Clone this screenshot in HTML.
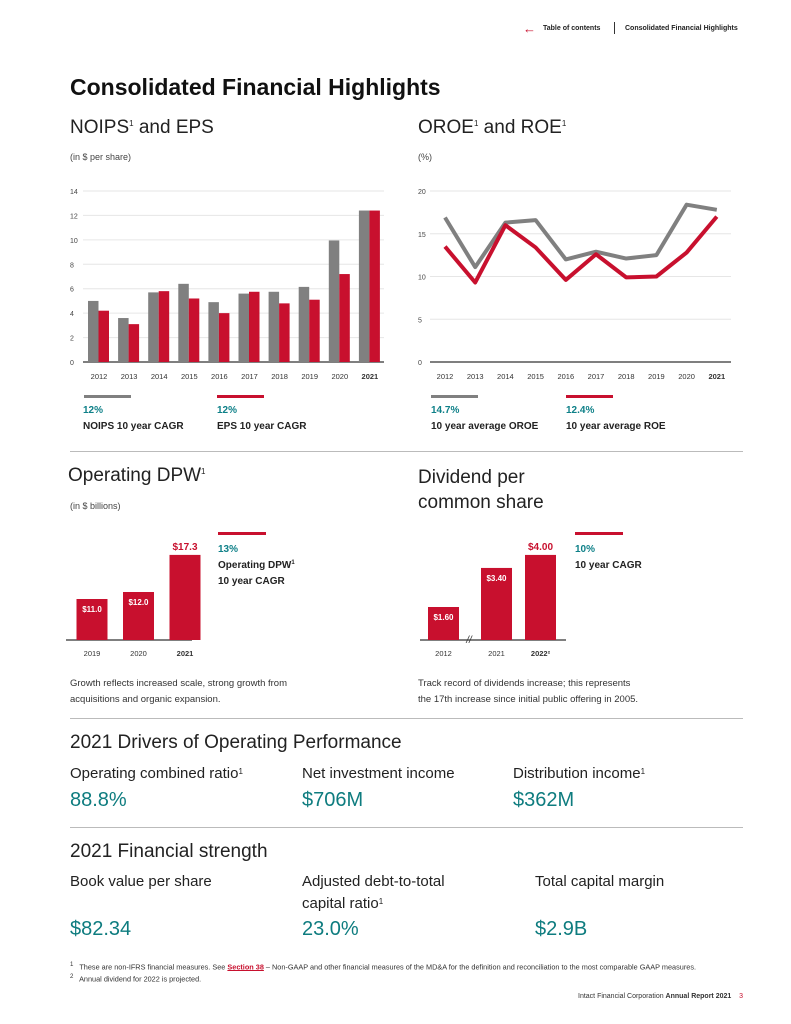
<!DOCTYPE html>
<html><head><meta charset="utf-8">
<style>
*{margin:0;padding:0;box-sizing:border-box}
body{width:791px;height:1024px;background:#fff;font-family:"Liberation Sans",sans-serif;color:#222;position:relative;overflow:hidden}
.a{position:absolute;white-space:nowrap}
.h2{font-size:19px;color:#222}
.h2 sup,.lab sup{font-size:8px;vertical-align:top;position:relative;top:2px}
.small{font-size:9px;color:#444}
.teal{color:#0e8088;font-weight:bold;font-size:10px}
.bold{font-weight:bold;font-size:10px;color:#222}
.sep{position:absolute;left:70px;width:673px;height:1px;background:#bbb}
.lab{font-size:15px;color:#222}
.val{font-size:20px;color:#0e7c7f}
svg text{font-family:"Liberation Sans",sans-serif}
</style></head><body>
<div class="a" style="left:523px;top:21px;font-size:13px;color:#c8102e">&#8592;</div>
<div class="a" style="left:543px;top:25px;font-size:7px;font-weight:bold">Table of contents</div>
<div class="a" style="left:614px;top:22px;width:1px;height:12px;background:#333"></div>
<div class="a" style="left:625px;top:25px;font-size:7px;font-weight:bold">Consolidated Financial Highlights</div>

<div class="a" style="left:70px;top:74px;font-size:23px;font-weight:bold;color:#111">Consolidated Financial Highlights</div>

<div class="a h2" style="left:70px;top:117px">NOIPS<sup>1</sup> and EPS</div>
<div class="a small" style="left:70px;top:152px">(in $ per share)</div>
<div class="a h2" style="left:418px;top:117px">OROE<sup>1</sup> and ROE<sup>1</sup></div>
<div class="a small" style="left:418px;top:152px">(%)</div>

<svg class="a" style="left:0;top:0" width="791" height="700" id="charts"></svg>

<div class="a" style="left:84px;top:395px;width:47px;height:3px;background:#808080"></div>
<div class="a" style="left:217px;top:395px;width:47px;height:3px;background:#c8102e"></div>
<div class="a" style="left:431px;top:395px;width:47px;height:3px;background:#808080"></div>
<div class="a" style="left:566px;top:395px;width:47px;height:3px;background:#c8102e"></div>
<div class="a teal" style="left:83px;top:405px">12%</div>
<div class="a bold" style="left:83px;top:421px">NOIPS 10 year CAGR</div>
<div class="a teal" style="left:217px;top:405px">12%</div>
<div class="a bold" style="left:217px;top:421px">EPS 10 year CAGR</div>
<div class="a teal" style="left:431px;top:405px">14.7%</div>
<div class="a bold" style="left:431px;top:421px">10 year average OROE</div>
<div class="a teal" style="left:566px;top:405px">12.4%</div>
<div class="a bold" style="left:566px;top:421px">10 year average ROE</div>

<div class="sep" style="top:451px"></div>

<div class="a h2" style="left:68px;top:465px">Operating DPW<sup>1</sup></div>
<div class="a small" style="left:70px;top:501px">(in $ billions)</div>
<div class="a h2" style="left:418px;top:465px;line-height:25px;white-space:normal;width:200px">Dividend per<br>common share</div>

<div class="a" style="left:218px;top:532px;width:48px;height:3px;background:#c8102e"></div>
<div class="a teal" style="left:218px;top:544px">13%</div>
<div class="a bold" style="left:218px;top:560px">Operating DPW<sup style="font-size:6px;vertical-align:top">1</sup></div>
<div class="a bold" style="left:218px;top:576px">10 year CAGR</div>
<div class="a" style="left:575px;top:532px;width:48px;height:3px;background:#c8102e"></div>
<div class="a teal" style="left:575px;top:544px">10%</div>
<div class="a bold" style="left:575px;top:560px">10 year CAGR</div>

<div class="a" style="left:70px;top:676px;font-size:9.5px;line-height:16px;color:#333">Growth reflects increased scale, strong growth from<br>acquisitions and organic expansion.</div>
<div class="a" style="left:418px;top:676px;font-size:9.5px;line-height:16px;color:#333">Track record of dividends increase; this represents<br>the 17th increase since initial public offering in 2005.</div>

<div class="sep" style="top:718px"></div>
<div class="a h2" style="left:70px;top:732px">2021 Drivers of Operating Performance</div>
<div class="a lab" style="left:70px;top:765px">Operating combined ratio<sup>1</sup></div>
<div class="a lab" style="left:302px;top:765px">Net investment income</div>
<div class="a lab" style="left:513px;top:765px">Distribution income<sup>1</sup></div>
<div class="a val" style="left:70px;top:789px">88.8%</div>
<div class="a val" style="left:302px;top:789px">$706M</div>
<div class="a val" style="left:513px;top:789px">$362M</div>

<div class="sep" style="top:827px"></div>
<div class="a h2" style="left:70px;top:841px">2021 Financial strength</div>
<div class="a lab" style="left:70px;top:873px">Book value per share</div>
<div class="a lab" style="left:302px;top:873px">Adjusted debt-to-total</div>
<div class="a lab" style="left:302px;top:895px">capital ratio<sup>1</sup></div>
<div class="a lab" style="left:535px;top:873px">Total capital margin</div>
<div class="a val" style="left:70px;top:918px">$82.34</div>
<div class="a val" style="left:302px;top:918px">23.0%</div>
<div class="a val" style="left:535px;top:918px">$2.9B</div>

<div class="a" style="left:70px;top:961px;font-size:7.3px;color:#333"><sup>1</sup>&nbsp;&nbsp; These are non-IFRS financial measures. See <span style="color:#c8102e;font-weight:bold;text-decoration:underline">Section 38</span> – Non-GAAP and other financial measures of the MD&amp;A for the definition and reconciliation to the most comparable GAAP measures.</div>
<div class="a" style="left:70px;top:973px;font-size:7.3px;color:#333"><sup>2</sup>&nbsp;&nbsp; Annual dividend for 2022 is projected.</div>
<div class="a" style="left:578px;top:993px;font-size:7px;color:#333">Intact Financial Corporation <b>Annual Report 2021</b>&nbsp;&nbsp;&nbsp;&nbsp;<span style="color:#c8102e">3</span></div>

<script>
const years=['2012','2013','2014','2015','2016','2017','2018','2019','2020','2021'];
const noips=[5.0,3.6,5.7,6.4,4.9,5.6,5.75,6.15,9.95,12.4];
const eps=[4.2,3.1,5.8,5.2,4.0,5.75,4.8,5.1,7.2,12.4];
const epsTicks=[0,2,4,6,8,10,12,14];
const oroe=[16.9,11.1,16.3,16.6,12.0,12.9,12.1,12.5,18.4,17.8];
const roe=[13.5,9.3,16.0,13.4,9.6,12.6,9.9,10.0,12.8,17.0];
const roeTicks=[0,5,10,15,20];
const dpwYears=['2019','2020','2021'];
const dpw=[11.0,12.0,17.3];
const dpwLabels=['$11.0','$12.0','$17.3'];
const divYears=['2012','2021','2022'];
const divs=[1.60,3.40,4.00];
const divLabels=['$1.60','$3.40','$4.00'];

const svg=document.getElementById('charts');
const NS='http://www.w3.org/2000/svg';
function mk(tag,attrs,txt){const e=document.createElementNS(NS,tag);for(const k in attrs)e.setAttribute(k,attrs[k]);if(txt!==undefined)e.textContent=txt;svg.appendChild(e);return e;}

const y1=v=>362-v*(171/14);
const x1=i=>99+i*30.1;
epsTicks.forEach(t=>{
  const g=mk('line',{x1:83,x2:384,y1:y1(t),y2:y1(t),stroke:t===0?'#333':'#e6e6e6','stroke-width':t===0?1.2:1});
  
  const l=mk('text',{x:70,y:y1(t)+3,'font-size':7,fill:'#444'},t);
  
});
years.forEach((yr,i)=>{
  const a=mk('rect',{x:x1(i)-11,y:y1(noips[i]),width:10.5,height:y1(0)-y1(noips[i]),fill:'#808080'});
  
  const b=mk('rect',{x:x1(i)-0.5,y:y1(eps[i]),width:10.5,height:y1(0)-y1(eps[i]),fill:'#c8102e'});
  
  const t=mk('text',{x:x1(i),y:379,'font-size':7.5,fill:'#333','text-anchor':'middle','font-weight':i===9?'bold':'normal'},yr);
  
});

const y2=v=>362-v*(171/20);
const x2=i=>445+i*30.2;
roeTicks.forEach(t=>{
  const g=mk('line',{x1:430,x2:731,y1:y2(t),y2:y2(t),stroke:t===0?'#333':'#e6e6e6','stroke-width':t===0?1.2:1});
  
  const l=mk('text',{x:418,y:y2(t)+3,'font-size':7,fill:'#444'},t);
  
});
years.forEach((yr,i)=>{
  const t=mk('text',{x:x2(i),y:379,'font-size':7.5,fill:'#333','text-anchor':'middle','font-weight':i===9?'bold':'normal'},yr);
  
});
const p1=mk('polyline',{points:oroe.map((v,i)=>x2(i)+','+y2(v)).join(' '),fill:'none',stroke:'#808080','stroke-width':4,'stroke-linejoin':'round'});

const p2=mk('polyline',{points:roe.map((v,i)=>x2(i)+','+y2(v)).join(' '),fill:'none',stroke:'#c8102e','stroke-width':4,'stroke-linejoin':'round'});


const h3=v=>41+(v-11)*7;
const x3=i=>92+i*46.5;
const ax3=mk('line',{x1:66,x2:192,y1:640,y2:640,stroke:'#333','stroke-width':1.3});

dpw.forEach((v,i)=>{
  const r=mk('rect',{x:x3(i)-15.5,y:640-h3(v),width:31,height:h3(v),fill:'#c8102e'});
  
  const last=i===dpw.length-1;
  const l=mk('text',{x:x3(i),y:last?640-h3(v)-5:640-h3(v)+13,'font-size':last?10:8,'font-weight':'bold',fill:last?'#c8102e':'#fff','text-anchor':'middle'},dpwLabels[i]);
  
  const t=mk('text',{x:x3(i),y:656,'font-size':7.5,fill:'#333','text-anchor':'middle','font-weight':last?'bold':'normal'},dpwYears[i]);
  
});

const h4=v=>33+(v-1.6)*21.7;
const xs4=[443.5,496.5,540.5];
const ax4=mk('line',{x1:420,x2:566,y1:640,y2:640,stroke:'#333','stroke-width':1.3});

const br=mk('text',{x:469,y:643,'font-size':10,fill:'#333','text-anchor':'middle','font-style':'italic'},'//');

divs.forEach((v,i)=>{
  const r=mk('rect',{x:xs4[i]-15.5,y:640-h4(v),width:31,height:h4(v),fill:'#c8102e'});
  
  const last=i===divs.length-1;
  const l=mk('text',{x:xs4[i],y:last?640-h4(v)-5:640-h4(v)+13,'font-size':last?10:8,'font-weight':'bold',fill:last?'#c8102e':'#fff','text-anchor':'middle'},divLabels[i]);
  
  const t=mk('text',{x:xs4[i],y:656,'font-size':7.5,fill:'#333','text-anchor':'middle','font-weight':last?'bold':'normal'},divYears[i]+(last?'²':''));
  
});
</script>
</body></html>
